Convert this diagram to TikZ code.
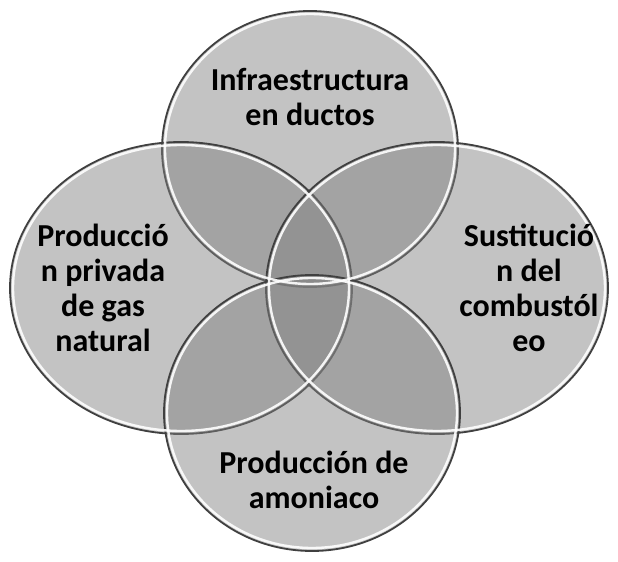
\documentclass[tikz,border=0pt]{standalone}
\usepackage{fontspec}
\setmainfont{Carlito}
\usetikzlibrary{shapes.geometric}

\begin{document}
\begin{tikzpicture}[x=0.5pt,y=-0.5pt,
                    set node/.style={ellipse,draw=black!75,line width=0.9pt,fill=black!50,
                                     fill opacity=0.47,inner sep=0pt},
                    shine/.style={draw=white,line width=1.2pt,opacity=0.9},
                    text node/.style={align=center,font=\fontsize{16}{17.5}\selectfont\bfseries}]
  \useasboundingbox (0,0) rectangle (618,562);

  % the four sets
  \node[set node,minimum width=148pt,minimum height=138pt] (infra) at (310,149) {};
  \node[set node,minimum width=171pt,minimum height=146pt] (prodgas) at (181,288) {};
  \node[set node,minimum width=171pt,minimum height=146pt] (sustit) at (437,288) {};
  \node[set node,minimum width=148pt,minimum height=138pt] (amon) at (312,413) {};

  % light edge inside each set
  \draw[shine] (infra.center) ellipse [x radius=72.5pt,y radius=67.5pt];
  \draw[shine] (prodgas.center) ellipse [x radius=84pt,y radius=71.5pt];
  \draw[shine] (sustit.center) ellipse [x radius=84pt,y radius=71.5pt];
  \draw[shine] (amon.center) ellipse [x radius=72.5pt,y radius=67.5pt];

  % labels
  \node[text node] (infra text) at (310,97) {Infraestructura\\en ductos};
  \node[text node] (prodgas text) at (103,288) {Producció\\n privada\\de gas\\natural};
  \node[text node] (sustit text) at (529,288) {Sustitució\\n del\\combustól\\eo};
  \node[text node] (amon text) at (314,480) {Producción de\\amoniaco};
\end{tikzpicture}
\end{document}
